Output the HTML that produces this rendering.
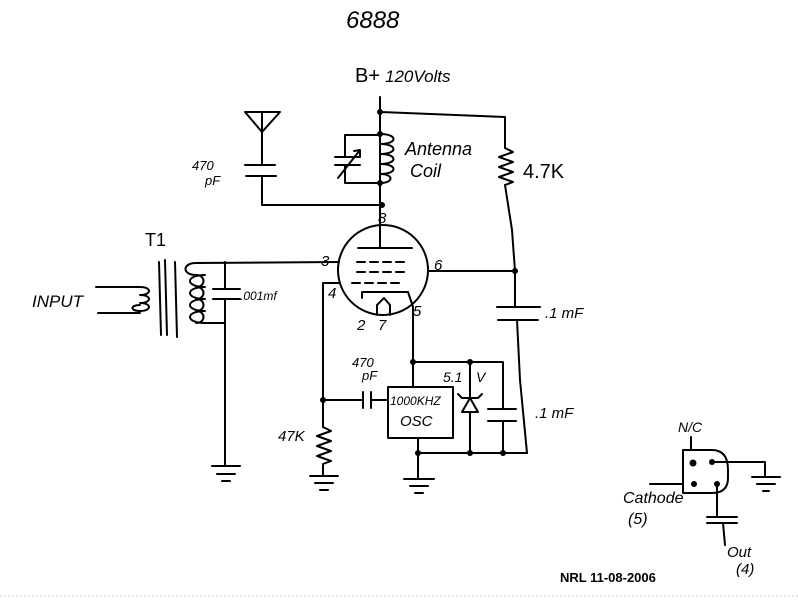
<!DOCTYPE html>
<html><head><style>
html,body{margin:0;padding:0;background:#fff;}
svg{display:block}
text{font-family:"Liberation Sans",sans-serif;fill:#000}
.h{font-style:italic;font-size:15px}
</style></head><body>
<svg width="798" height="600" viewBox="0 0 798 600" xmlns="http://www.w3.org/2000/svg">
<g fill="none" stroke="#000" stroke-width="2" stroke-linecap="round" stroke-linejoin="round">
<!-- B+ line -->
<path d="M380 97 V205"/>
<path d="M380 112 L505 117 V148"/>
<path d="M505 148 l8 4 l-14 5 l14 5 l-14 5 l14 5 l-14 5 l14 5 l-8 3"/>
<path d="M505 185 L512 230 L515 271 V307"/>
<path d="M497 307 H540 M498 320 H538"/>
<path d="M517 320 L520 380 L527 453"/>
<!-- antenna coil -->
<path d="M380 134 c18 0 18 10 0 10 c18 0 18 10 0 10 c18 0 18 10 0 10 c18 0 18 10 0 10 c14 0 14 9 0 9"/>
<path d="M380 135 H345 V157 M345 165 V183 H380"/>
<path d="M335 157 H360 M335 165 H360 M338 178 L360 150 M354 151 L360 150 L360 157"/>
<!-- antenna -->
<path d="M245 112 H280 L262 132 Z M262 112 V165"/>
<path d="M245 165 H275 M246 176 H276 M262 176 V205 H382"/>
<!-- tube -->
<circle cx="383" cy="270" r="45"/>
<path d="M380 205 V248 M358 248 H412"/>
<path d="M357 262 H365 M370 262 H378 M383 262 H391 M396 262 H404"/>
<path d="M357 272 H365 M370 272 H378 M383 272 H391 M396 272 H404"/>
<path d="M352 283 H360 M365 283 H373 M378 283 H386 M391 283 H399"/>
<path d="M362 298 V292 H408 L413 307"/>
<path d="M377 315 V305 L384 298 L390 305 V315"/>
<!-- grid 3 / transformer secondary -->
<path d="M196 263 L339 262"/>
<path d="M196 263 c-14 0 -14 12 0 12 M205 275 c-20 0 -20 12 0 12 M205 287 c-20 0 -20 12 0 12 M205 299 c-20 0 -20 12 0 12 M205 311 c-20 0 -20 12 0 12 M205 323 H225"/>
<path d="M196 275 c10 0 10 12 0 12 M196 287 c10 0 10 12 0 12 M196 299 c10 0 10 12 0 12 M196 311 c10 0 10 12 0 12"/>
<path d="M225 262 V289 M213 289 H240 M213 299 H240 M225 299 V465"/>
<path d="M212 466 H240 M217 474 H235 M222 481 H230"/>
<!-- core -->
<path d="M159 262 L161 335 M165 260 L167 335 M175 262 L177 337"/>
<!-- primary -->
<path d="M96 287 H140 c12 0 12 8 0 8 c12 0 12 8 0 8 c12 0 12 8 0 8 c-10 0 -10 -6 0 -6 M140 313 H98"/>
<!-- pin 6 -->
<path d="M428 271 H515"/>
<!-- grid 4 -->
<path d="M340 283 H323 V427"/>
<path d="M323 400 H363 M363 392 V408 M371 392 V408 M371 400 H388"/>
<path d="M323 427 l8 4 l-14 5 l14 5 l-14 5 l14 5 l-14 5 l14 5 l-8 3 V475"/>
<path d="M310 476 H338 M315 483 H333 M320 490 H328"/>
<!-- pin 5 -->
<path d="M413 307 V387 M413 362 H503 V409 M488 409 H516 M488 421 H516 M503 421 V453"/>
<rect x="388" y="387" width="65" height="51"/>
<path d="M418 438 V478 M418 453 H527"/>
<path d="M404 479 H434 M410 486 H428 M415 493 H423"/>
<!-- zener -->
<path d="M470 362 V398 M462 398 H478 M470 398 L462 412 H478 Z M470 412 V453 M462 398 l-4 -4 M478 398 l4 -4"/>
<!-- right mini -->
<path d="M683 450 H712 Q728 450 728 470 V478 Q728 493 712 493 H683 Z"/>
<path d="M691 450 V437 M712 462 H765 V477 M752 477 H780 M757 484 H775 M763 491 H769 M650 484 H683 M717 484 V517 M707 517 H737 M707 523 H737 M723 523 L725 545"/>
</g>
<g fill="#000">
<circle cx="380" cy="112" r="3"/><circle cx="380" cy="134" r="3"/><circle cx="380" cy="183" r="3"/><circle cx="382" cy="205" r="3"/>
<circle cx="515" cy="271" r="3"/><circle cx="323" cy="400" r="3"/><circle cx="413" cy="362" r="3"/><circle cx="470" cy="362" r="3"/>
<circle cx="418" cy="453" r="3"/><circle cx="470" cy="453" r="3"/><circle cx="503" cy="453" r="3"/>
<circle cx="693" cy="463" r="3.5"/><circle cx="712" cy="462" r="3"/><circle cx="694" cy="484" r="3"/><circle cx="717" cy="484" r="3"/>
</g>
<text x="346" y="28" class="h" style="font-size:24px">6888</text>
<text x="355" y="82" style="font-size:20px">B+</text><text x="385" y="82" class="h" style="font-size:17px">120Volts</text>
<text x="192" y="170" class="h" style="font-size:13px">470</text><text x="205" y="185" class="h" style="font-size:13px">pF</text>
<text x="405" y="155" class="h" style="font-size:18px">Antenna</text><text x="410" y="177" class="h" style="font-size:18px">Coil</text>
<text x="523" y="178" style="font-size:20px">4.7K</text>
<text x="145" y="246" style="font-size:18px">T1</text>
<text x="32" y="307" class="h" style="font-size:17px">INPUT</text>
<text x="240" y="300" class="h" style="font-size:12px">.001mf</text>
<text x="321" y="266" class="h">3</text><text x="378" y="223" class="h">8</text><text x="434" y="270" class="h">6</text>
<text x="328" y="298" class="h">4</text><text x="413" y="316" class="h">5</text><text x="357" y="330" class="h">2</text><text x="378" y="330" class="h">7</text>
<text x="352" y="367" class="h" style="font-size:13px">470</text><text x="362" y="380" class="h" style="font-size:13px">pF</text>
<text x="443" y="382" class="h" style="font-size:14px">5.1</text><text x="476" y="382" class="h" style="font-size:14px">V</text>
<text x="390" y="405" class="h" style="font-size:12px">1000KHZ</text><text x="400" y="426" class="h" style="font-size:15px">OSC</text>
<text x="278" y="441" class="h" style="font-size:15px">47K</text>
<text x="545" y="318" class="h" style="font-size:15px">.1 mF</text>
<text x="535" y="418" class="h" style="font-size:15px">.1 mF</text>
<text x="678" y="432" class="h" style="font-size:14px">N/C</text>
<text x="623" y="503" class="h" style="font-size:16px">Cathode</text><text x="628" y="524" class="h" style="font-size:16px">(5)</text>
<text x="727" y="557" class="h" style="font-size:15px">Out</text><text x="736" y="574" class="h" style="font-size:15px">(4)</text>
<text x="560" y="582" style="font-size:13px;font-weight:bold">NRL  11-08-2006</text>
<line x1="0" y1="596" x2="798" y2="596" stroke="#ccc" stroke-width="1" stroke-dasharray="2 2"/>
</svg>
</body></html>
